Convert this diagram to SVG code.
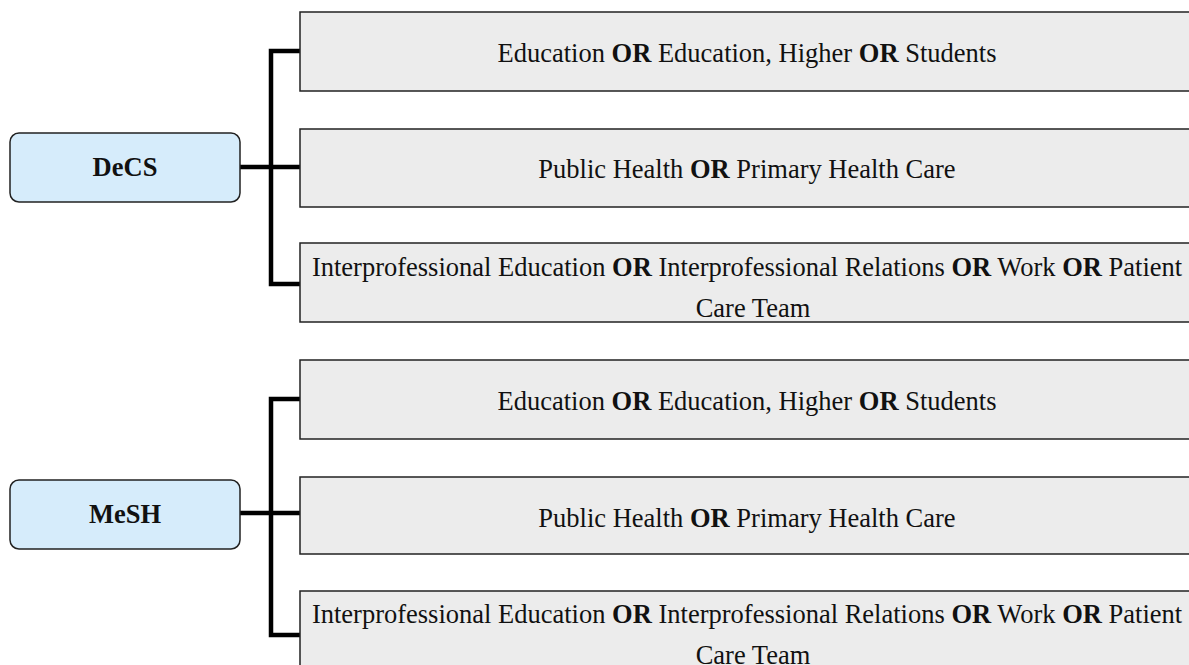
<svg xmlns="http://www.w3.org/2000/svg" width="1189" height="665" viewBox="0 0 1189 665">
<style>
.root{fill:#d6ecfb;stroke:#222;stroke-width:1.5}
.leaf{fill:#ececec;stroke:#222;stroke-width:1.5}
.t{font-family:"Liberation Serif","Times New Roman",serif;font-size:26.5px;fill:#111;text-anchor:middle}
.b{font-weight:bold}
.conn{fill:none;stroke:#000;stroke-width:4.5;stroke-linejoin:miter}
</style>
<rect width="1189" height="665" fill="#fff"/>
<g id="connectors">
<path class="conn" d="M300,51 H271 V284 H300 M240,167 H300"/>
<path class="conn" d="M300,399 H271 V635 H300 M240,513 H300"/>
</g>
<g id="decs">
<rect class="root" x="10" y="133" width="230" height="69" rx="9"/>
<text class="t b" x="125" y="176">DeCS</text>
</g>
<g id="decs-1">
<rect class="leaf" x="300" y="12" width="894" height="79"/>
<text class="t" x="747" y="62">Education <tspan class="b">OR</tspan> Education, Higher <tspan class="b">OR</tspan> Students</text>
</g>
<g id="decs-2">
<rect class="leaf" x="300" y="129" width="894" height="78"/>
<text class="t" x="747" y="178">Public Health <tspan class="b">OR</tspan> Primary Health Care</text>
</g>
<g id="decs-3">
<rect class="leaf" x="300" y="243" width="894" height="79"/>
<text class="t" x="747" y="276">Interprofessional Education <tspan class="b">OR</tspan> Interprofessional Relations <tspan class="b">OR</tspan> Work <tspan class="b">OR</tspan> Patient</text>
<text class="t" x="753" y="317">Care Team</text>
</g>
<g id="mesh">
<rect class="root" x="10" y="480" width="230" height="69" rx="9"/>
<text class="t b" x="125" y="523">MeSH</text>
</g>
<g id="mesh-1">
<rect class="leaf" x="300" y="360" width="894" height="79"/>
<text class="t" x="747" y="410">Education <tspan class="b">OR</tspan> Education, Higher <tspan class="b">OR</tspan> Students</text>
</g>
<g id="mesh-2">
<rect class="leaf" x="300" y="477" width="894" height="77"/>
<text class="t" x="747" y="527">Public Health <tspan class="b">OR</tspan> Primary Health Care</text>
</g>
<g id="mesh-3">
<rect class="leaf" x="300" y="591" width="894" height="79"/>
<text class="t" x="747" y="623">Interprofessional Education <tspan class="b">OR</tspan> Interprofessional Relations <tspan class="b">OR</tspan> Work <tspan class="b">OR</tspan> Patient</text>
<text class="t" x="753" y="664">Care Team</text>
</g>
</svg>
